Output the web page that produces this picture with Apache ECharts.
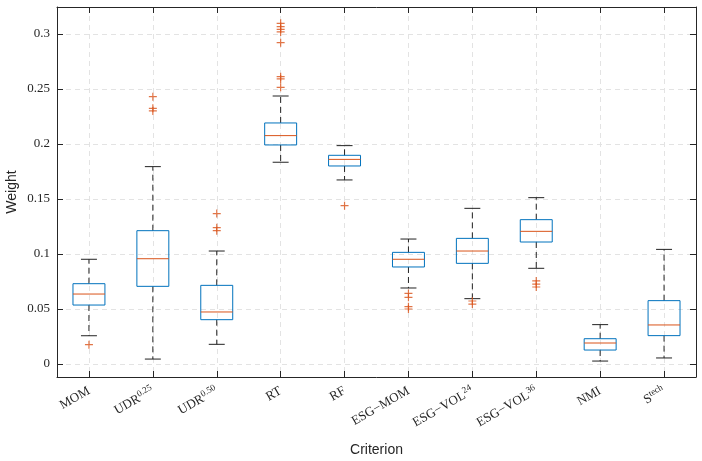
<!DOCTYPE html>
<html>
<head>
<meta charset="utf-8">
<title>Weight by criterion</title>
<script src="https://cdn.jsdelivr.net/npm/echarts@6/dist/echarts.min.js"></script>
<style>
    html, body { margin: 0; padding: 0; background: #fff; }
    #main { width: 702px; height: 461px; }
</style>
</head>
<body>
<div id="main"></div>
<script>
// 类别与箱线图数据
var categories = ['MOM', 'UDR|0.25', 'UDR|0.50', 'RT', 'RF', 'ESG−MOM', 'ESG−VOL|24', 'ESG−VOL|36', 'NMI', 'S|tech'];
var whiskerLow  = [0.0257, 0.0045, 0.0179, 0.1834, 0.1673, 0.0691, 0.0594, 0.0870, 0.0027, 0.0055];
var boxQ1       = [0.0536, 0.0706, 0.0403, 0.1991, 0.1800, 0.0882, 0.0915, 0.1109, 0.0127, 0.0258];
var medians     = [0.0636, 0.0957, 0.0473, 0.2076, 0.1860, 0.0952, 0.1027, 0.1206, 0.0191, 0.0355];
var boxQ3       = [0.0730, 0.1212, 0.0715, 0.2191, 0.1897, 0.1015, 0.1142, 0.1312, 0.0230, 0.0576];
var whiskerHigh = [0.0952, 0.1794, 0.1027, 0.2436, 0.1985, 0.1136, 0.1415, 0.1512, 0.0358, 0.1042];
var outliers = [
    [0.0176],
    [0.2430, 0.2324, 0.2300],
    [0.1367, 0.1239, 0.1212],
    [0.3097, 0.3067, 0.3042, 0.3018, 0.2921, 0.2612, 0.2591, 0.2515],
    [0.1439],
    [0.0642, 0.0606, 0.0521, 0.0500],
    [0.0573, 0.0545],
    [0.0755, 0.0727, 0.0700],
    [],
    []
];
var yMin = -0.0118;
var yMax = 0.3245;

var axisColor = '#262626';
var boxColor = '#0072BD';
var medColor = '#D95319';
var serifFont = 'Liberation Serif';
var sansFont = 'Liberation Sans';

function buildBoxData() {
    var data = [];
    for (var i = 0; i < categories.length; i++) {
        data.push([i, whiskerLow[i], boxQ1[i], medians[i], boxQ3[i], whiskerHigh[i]]);
    }
    return data;
}

function buildOutlierData() {
    var data = [];
    for (var i = 0; i < outliers.length; i++) {
        for (var j = 0; j < outliers[i].length; j++) {
            data.push([i, outliers[i][j]]);
        }
    }
    return data;
}

// x轴标签，带上标
function xLabelFormatter(value) {
    var idx = Math.round(value);
    if (Math.abs(value - idx) > 1e-6 || idx < 0 || idx >= categories.length) {
        return '';
    }
    var parts = categories[idx].split('|');
    if (parts.length > 1) {
        return '{n|' + parts[0] + '}{sup|' + parts[1] + '}';
    }
    return '{n|' + parts[0] + '}';
}

function renderBox(params, api) {
    var x = api.value(0);
    var pLow = api.coord([x, api.value(1)]);
    var pQ1 = api.coord([x, api.value(2)]);
    var pMed = api.coord([x, api.value(3)]);
    var pQ3 = api.coord([x, api.value(4)]);
    var pHigh = api.coord([x, api.value(5)]);
    var w = api.size([0.5, 0])[0];
    var cap = w / 4;
    var cx = pMed[0];
    var dashStyle = { stroke: '#222', lineWidth: 1, lineDash: [6, 4] };
    var capStyle = { stroke: '#222', lineWidth: 1 };
    return {
        type: 'group',
        children: [
            { type: 'line', shape: { x1: cx, y1: pQ3[1], x2: cx, y2: pHigh[1] }, style: dashStyle },
            { type: 'line', shape: { x1: cx, y1: pQ1[1], x2: cx, y2: pLow[1] }, style: dashStyle },
            { type: 'line', shape: { x1: cx - cap, y1: pHigh[1], x2: cx + cap, y2: pHigh[1] }, style: capStyle },
            { type: 'line', shape: { x1: cx - cap, y1: pLow[1], x2: cx + cap, y2: pLow[1] }, style: capStyle },
            { type: 'rect', shape: { x: cx - w / 2, y: pQ3[1], width: w, height: pQ1[1] - pQ3[1] },
                style: { fill: 'none', stroke: boxColor, lineWidth: 1 } },
            { type: 'line', shape: { x1: cx - w / 2, y1: pMed[1], x2: cx + w / 2, y2: pMed[1] },
                style: { stroke: medColor, lineWidth: 1 } }
        ]
    };
}

function initChart() {
    var mainContainer = document.getElementById('main');
    var chart = echarts.init(mainContainer);
    var option = {
        animation: false,
        backgroundColor: '#fff',
        grid: { left: 57, right: 6, top: 7, bottom: 84, containLabel: false, outerBoundsMode: 'none' },
        xAxis: [{
            type: 'value',
            min: -0.5,
            max: 9.5,
            minInterval: 1,
            maxInterval: 1,
            name: 'Criterion',
            nameLocation: 'middle',
            nameGap: 66,
            nameTextStyle: { fontFamily: sansFont, fontSize: 14, color: axisColor },
            axisLine: { show: true, onZero: false, lineStyle: { color: axisColor } },
            axisTick: { show: true, inside: true, length: 6, lineStyle: { color: axisColor } },
            axisLabel: {
                rotate: 30,
                margin: 13,
                showMinLabel: false,
                showMaxLabel: false,
                color: axisColor,
                formatter: xLabelFormatter,
                rich: {
                    n: { fontFamily: serifFont, fontSize: 13, color: axisColor, lineHeight: 16 },
                    sup: { fontFamily: serifFont, fontSize: 9, color: axisColor, lineHeight: 9, verticalAlign: 'top' }
                }
            },
            splitLine: { show: true, lineStyle: { color: '#e3e3e3', type: [5, 4] } }
        }, {
            type: 'value',
            position: 'top',
            min: -0.5,
            max: 9.5,
            minInterval: 1,
            maxInterval: 1,
            axisLine: { show: true, onZero: false, lineStyle: { color: axisColor } },
            axisTick: { show: true, inside: true, length: 6, lineStyle: { color: axisColor } },
            axisLabel: { show: false },
            splitLine: { show: false }
        }],
        yAxis: [{
            type: 'value',
            min: yMin,
            max: yMax,
            name: 'Weight',
            nameLocation: 'middle',
            nameGap: 38,
            nameMoveOverlap: false,
            nameTextStyle: { fontFamily: sansFont, fontSize: 14, color: axisColor },
            axisLine: { show: true, onZero: false, lineStyle: { color: axisColor } },
            axisTick: { show: true, inside: true, length: 6, lineStyle: { color: axisColor } },
            axisLabel: {
                showMinLabel: false,
                showMaxLabel: false,
                margin: 7,
                fontFamily: serifFont,
                fontSize: 13,
                color: axisColor
            },
            splitLine: { show: true, lineStyle: { color: '#e3e3e3', type: [5, 4] } }
        }, {
            type: 'value',
            position: 'right',
            min: yMin,
            max: yMax,
            axisLine: { show: true, onZero: false, lineStyle: { color: axisColor } },
            axisTick: { show: true, inside: true, length: 6, lineStyle: { color: axisColor } },
            axisLabel: { show: false },
            splitLine: { show: false }
        }],
        series: [{
            type: 'custom',
            name: 'box',
            xAxisIndex: 0,
            yAxisIndex: 0,
            renderItem: renderBox,
            encode: { x: 0, y: [1, 2, 3, 4, 5] },
            data: buildBoxData(),
            z: 3
        }, {
            type: 'scatter',
            name: 'outliers',
            xAxisIndex: 0,
            yAxisIndex: 0,
            symbol: 'path://M0,5L10,5M5,0L5,10',
            symbolSize: 8,
            itemStyle: { color: 'none', borderColor: medColor, borderWidth: 1.2 },
            data: buildOutlierData(),
            z: 4
        }]
    };
    chart.setOption(option);
}

initChart();
</script>
</body>
</html>
